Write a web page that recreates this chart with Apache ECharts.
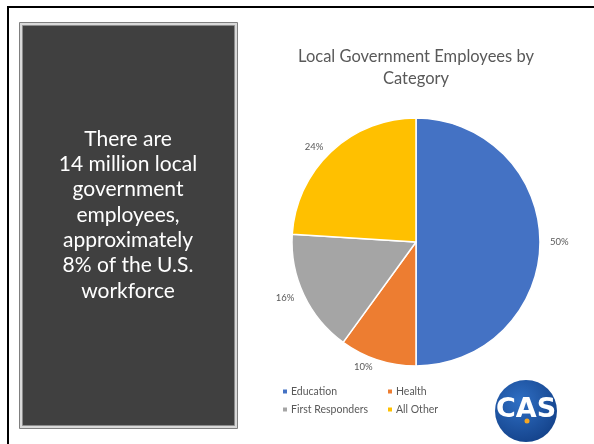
<!DOCTYPE html>
<html>
<head>
<meta charset="utf-8">
<script src="https://cdn.jsdelivr.net/npm/echarts@6/dist/echarts.min.js"></script>
<style>
  html, body { margin: 0; padding: 0; background: #ffffff; }
  #chart { width: 594px; height: 444px; }
</style>
</head>
<body>
<div id="chart"></div>
<script>
// Shares of local government employment, in percent
const categories = ['Education', 'Health', 'First Responders', 'All Other'];
const shares = [50, 10, 16, 24];
const sliceColors = ['#4472C4', '#ED7D31', '#A5A5A5', '#FFC000'];

const chartTitle = 'Local Government Employees by\nCategory';
const calloutLines = [
  'There are',
  '14 million local',
  'government',
  'employees,',
  'approximately',
  '8% of the U.S.',
  'workforce'
];

const FONT = 'Lato, "Open Sans", sans-serif';
const GREY_TEXT = '#595959';

const chart = echarts.init(document.getElementById('chart'), null, { renderer: 'canvas' });

const pieData = categories.map((name, i) => ({
  name: name,
  value: shares[i],
  itemStyle: { color: sliceColors[i] }
}));

const legendStyle = {
  orient: 'vertical',
  icon: 'rect',
  itemWidth: 6,
  itemHeight: 6,
  itemGap: 7,
  selectedMode: false,
  textStyle: { color: GREY_TEXT, fontSize: 10.5, fontFamily: FONT, padding: [0, 0, 0, -2] }
};

chart.setOption({
  backgroundColor: '#ffffff',
  animation: false,
  legend: [
    Object.assign({ left: 276, top: 381, data: [categories[0], categories[2]] }, legendStyle),
    Object.assign({ left: 381, top: 381, data: [categories[1], categories[3]] }, legendStyle)
  ],
  series: [{
    type: 'pie',
    center: [416, 242],
    radius: 124,
    startAngle: 90,
    clockwise: true,
    data: pieData,
    itemStyle: { borderColor: '#ffffff', borderWidth: 1.5 },
    label: {
      show: true,
      position: 'outside',
      formatter: '{c}%',
      color: GREY_TEXT,
      fontSize: 9.5,
      fontFamily: FONT,
      distanceToLabelLine: 3
    },
    labelLine: { show: false, length: 7, length2: 0 },
    emphasis: { disabled: true }
  }],
  graphic: [
    // slide frame
    { type: 'rect', shape: { x: 7, y: 6, width: 590, height: 2 }, style: { fill: '#000000' } },
    { type: 'rect', shape: { x: 7, y: 6, width: 2, height: 440 }, style: { fill: '#000000' } },
    // dark callout box
    { type: 'rect', shape: { x: 19.5, y: 22.5, width: 218, height: 406 },
      style: { fill: '#d9d9d9', stroke: '#7f7f7f', lineWidth: 1 } },
    { type: 'rect', shape: { x: 22.5, y: 25.5, width: 212, height: 400 },
      style: { fill: '#404040', stroke: '#8c8c8c', lineWidth: 1 } },
    { type: 'text', x: 128, y: 215,
      style: {
        text: calloutLines.join('\n'),
        fill: '#ffffff',
        font: '21px ' + FONT,
        lineHeight: 25.3,
        align: 'center',
        verticalAlign: 'middle'
      } },
    // chart title
    { type: 'text', x: 416, y: 68,
      style: {
        text: chartTitle,
        fill: GREY_TEXT,
        font: '16.5px ' + FONT,
        lineHeight: 22,
        align: 'center',
        verticalAlign: 'middle'
      } },
    // CAS logo
    { type: 'circle', shape: { cx: 526, cy: 411, r: 31 },
      style: {
        fill: new echarts.graphic.RadialGradient(0.4, 0.35, 0.75, [
          { offset: 0, color: '#2f6fc4' },
          { offset: 1, color: '#123f86' }
        ])
      } },
    { type: 'text', x: 526, y: 410,
      style: {
        text: 'CAS',
        fill: '#ffffff',
        font: 'bold 27px "DejaVu Sans", sans-serif',
        align: 'center',
        verticalAlign: 'middle'
      } },
    { type: 'circle', shape: { cx: 527, cy: 421, r: 2.5 }, style: { fill: '#f5a623' } }
  ]
});
</script>
</body>
</html>
